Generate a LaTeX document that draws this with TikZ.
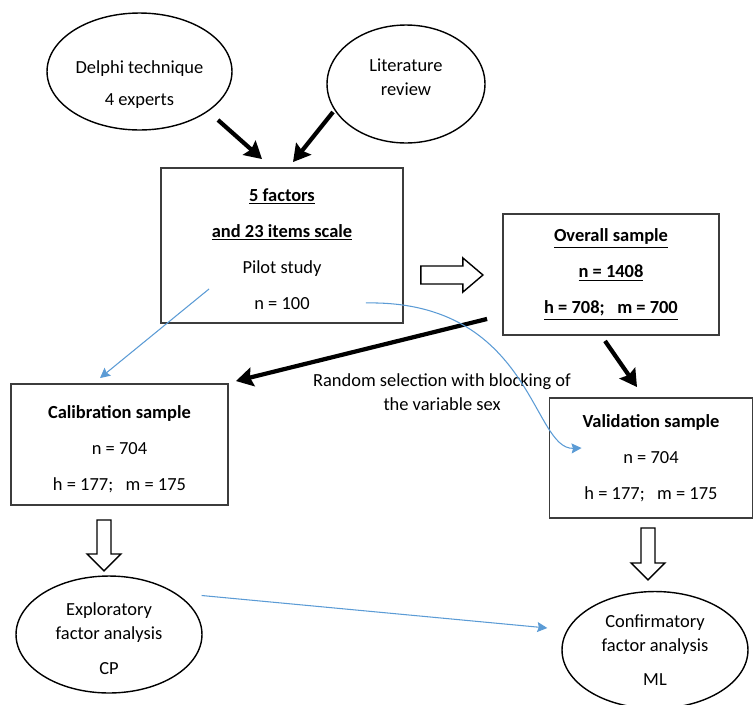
\documentclass[tikz,border=0pt]{standalone}
\usepackage{fontspec}
\setmainfont{Carlito}
\usetikzlibrary{arrows.meta, positioning, calc, shapes.geometric}
\definecolor{cLine}{RGB}{60,60,60}
\definecolor{cBlue}{RGB}{91,155,213}
\tikzset{
	oval/.style     ={ellipse, draw=black, line width=0.8pt, inner sep=0pt, align=center},
	samplebox/.style={rectangle, draw=cLine, line width=1.1pt, inner sep=0pt, align=center, font=\fontsize{10.5}{20.5}\selectfont},
	bigarrow/.style ={-{Stealth[length=0.34cm, width=0.38cm, inset=0.05cm]}, line width=2.4pt},
	bluearrow/.style={-{Stealth[length=0.2cm, width=0.2cm, inset=0.03cm]}, cBlue, line width=0.6pt},
	hollow/.style   ={draw=black, line width=0.8pt, fill=white},
}
\begin{document}
\begin{tikzpicture}[x=0.02cm, y=-0.02cm, font=\fontsize{10.5}{13.6}\selectfont]
	\useasboundingbox (0,0) rectangle (754,704);
	% sources
	\node[oval, minimum width=3.7cm, minimum height=2.34cm] (delphi) at (139.5,71.5) {\rule{0pt}{22pt}Delphi technique\\[5pt]4 experts};
	\node[oval, minimum width=3.16cm, minimum height=2.36cm] (litrev) at (406,84) {Literature\\review\rule[-8pt]{0pt}{8pt}};
	% samples
	\node[samplebox, minimum width=4.84cm, minimum height=3.1cm] (pilot) at (282,245.5) {\rule{0pt}{11pt}\underline{\textbf{5 factors}}\\\underline{\textbf{and 23 items scale}}\\Pilot study\\n = 100};
	\node[samplebox, minimum width=4.32cm, minimum height=2.42cm] (overall) at (611,274.5) {\underline{\textbf{Overall sample}}\\\underline{\textbf{n = 1408}}\\\underline{\textbf{h = 708;\ \ \ m = 700}}};
	\node[samplebox, minimum width=4.34cm, minimum height=2.42cm] (calib) at (119.5,444.5) {\rule{0pt}{13pt}\textbf{Calibration sample}\\n = 704\\h = 177;\ \ \ m = 175};
	\node[samplebox, minimum width=4.06cm, minimum height=2.4cm] (valid) at (651,458) {\textbf{Validation sample}\\n = 704\\h = 177;\ \ \ m = 175};
	\node[align=center] (randsel) at (442,392) {Random selection with blocking of\\the variable sex};
	% analyses
	\node[oval, minimum width=3.72cm, minimum height=2.34cm] (explor) at (109,634.5) {\rule{0pt}{12pt}Exploratory\\factor analysis\\[6pt]CP};
	\node[oval, minimum width=3.72cm, minimum height=2.34cm] (confirm) at (655,650) {Confirmatory\\factor analysis\\[6pt]ML};
	% black arrows
	\draw[bigarrow] ($(delphi.center)+(78.5,48.5)$) -- ($(pilot.north)+(-20,-8)$);
	\draw[bigarrow] ($(litrev.center)+(-73,28)$) -- ($(pilot.north)+(11,-5)$);
	\draw[bigarrow] ($(overall.south west)+(-15,-17)$) -- ($(calib.north east)+(7,-2)$);
	\draw[bigarrow] ($(overall.south)+(-6,5)$) -- ($(valid.north)+(-14,-10)$);
	% hollow arrows
	\draw[hollow] ($(pilot.east)+(17,29.5)$) ++(0,-9) -- ++(42,0) -- ++(0,-8) -- ++(20,17) -- ++(-20,17) -- ++(0,-8) -- ++(-42,0) -- cycle;
	\draw[hollow] ($(calib.south)+(-15.5,14)$) ++(-7,0) -- ++(0,34) -- ++(-10,0) -- ++(17,17) -- ++(17,-17) -- ++(-10,0) -- ++(0,-34) -- cycle;
	\draw[hollow] ($(valid.south)+(-3,9)$) ++(-7,0) -- ++(0,35) -- ++(-10,0) -- ++(17,17) -- ++(17,-17) -- ++(-10,0) -- ++(0,-35) -- cycle;
	% blue links
	\draw[bluearrow] ($(pilot.south west)+(49,-35)$) -- ($(calib.north)+(-19.5,-5)$);
	\draw[bluearrow] ($(pilot.south east)+(-38,-21)$) .. controls (532,300) and (532,450) .. ($(valid.west)+(33,-10)$);
	\draw[bluearrow] ($(explor.east)+(-1,-39)$) -- ($(confirm.west)+(-14,-22)$);
\end{tikzpicture}
\end{document}
